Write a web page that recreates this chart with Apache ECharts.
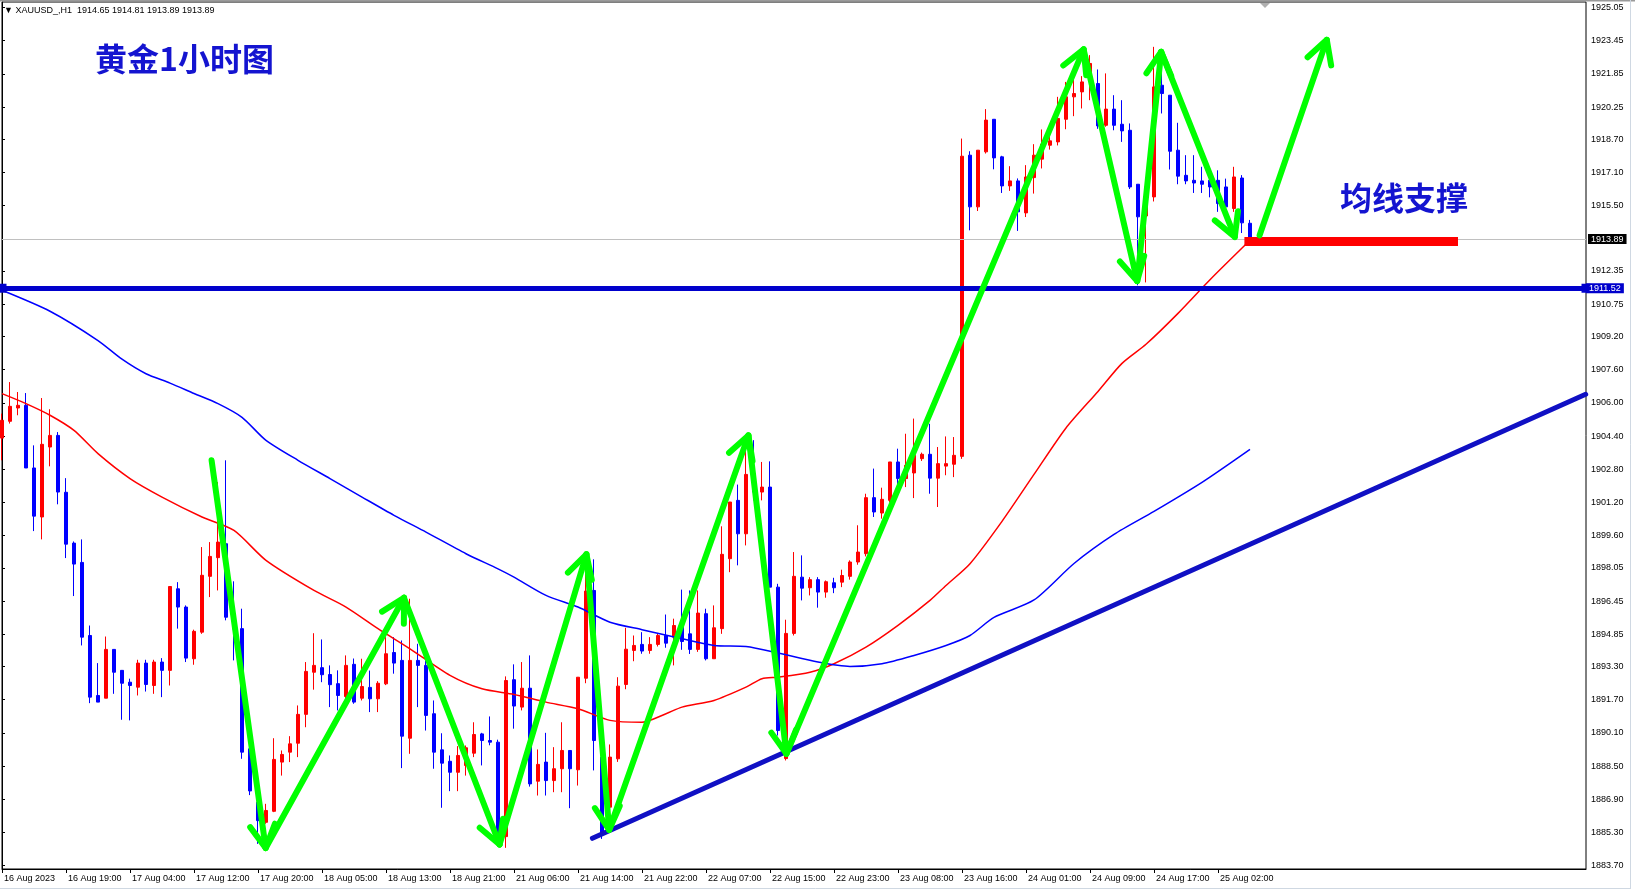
<!DOCTYPE html>
<html>
<head>
<meta charset="utf-8">
<script src="https://cdn.jsdelivr.net/npm/echarts@6/dist/echarts.min.js"></script>
<style>
html,body{margin:0;padding:0;background:#fff;}
#chart{width:1635px;height:893px;}
</style>
</head>
<body>
<div id="chart"></div>
<script>
// ---------- data ----------
const xTickLabels = ['16 Aug 2023','16 Aug 19:00','17 Aug 04:00','17 Aug 12:00','17 Aug 20:00','18 Aug 05:00','18 Aug 13:00','18 Aug 21:00','21 Aug 06:00','21 Aug 14:00','21 Aug 22:00','22 Aug 07:00','22 Aug 15:00','22 Aug 23:00','23 Aug 08:00','23 Aug 16:00','24 Aug 01:00','24 Aug 09:00','24 Aug 17:00','25 Aug 02:00'];
const barsPerLabel = 8;
const slotCount = 199;

const yTickValues = [1925.05,1923.45,1921.85,1920.25,1918.70,1917.10,1915.50,1912.35,1910.75,1909.20,1907.60,1906.00,1904.40,1902.80,1901.20,1899.60,1898.05,1896.45,1894.85,1893.30,1891.70,1890.10,1888.50,1886.90,1885.30,1883.70];

const opens = [1904.30,1905.11,1905.75,1905.88,1902.86,1900.50,1903.87,1904.43,1901.69,1899.24,1898.31,1894.79,1891.90,1891.77,1894.12,1893.11,1892.54,1892.30,1893.46,1892.38,
1893.51,1893.11,1897.04,1896.16,1893.67,1894.95,1897.64,1898.54,1899.21,1895.67,1895.12,1889.33,1886.76,1885.79,1886.32,1888.69,1889.17,1889.60,1890.99,1893.02,
1893.24,1892.91,1892.47,1891.85,1893.40,1891.77,1892.29,1891.74,1892.46,1893.97,1893.59,1889.84,1893.59,1893.35,1891.02,1889.28,1888.73,1888.20,1888.53,1889.12,
1890.05,1889.73,1889.65,1885.10,1892.66,1891.34,1892.25,1887.77,1888.69,1887.80,1888.37,1889.25,1888.32,1892.73,1896.96,1888.93,1886.52,1888.85,1892.43,1894.07,
1894.36,1894.07,1894.36,1894.79,1894.71,1895.30,1894.87,1894.12,1895.84,1893.67,1895.12,1898.49,1901.30,1899.69,1902.55,1901.70,1901.94,1897.12,1888.86,1894.89,
1897.60,1897.09,1897.48,1896.88,1897.33,1897.36,1897.64,1898.33,1898.73,1901.43,1900.69,1901.30,1903.15,1902.35,1902.62,1903.31,1903.52,1902.37,1902.95,1903.04,
1903.42,1917.93,1915.44,1918.09,1919.66,1917.85,1916.45,1916.69,1915.15,1916.85,1917.74,1918.41,1918.57,1919.66,1920.74,1920.98,1921.54,1921.38,1919.37,1920.15,
1919.42,1919.13,1916.53,1915.00,1915.92,1921.30,1920.82,1918.17,1916.96,1916.72,1916.69,1916.72,1916.72,1916.40,1915.36,1916.83,1914.65];
const highs = [1905.48,1907.00,1906.52,1906.47,1903.95,1906.23,1905.69,1904.59,1902.37,1899.32,1899.42,1895.27,1893.46,1894.74,1894.12,1893.11,1892.71,1893.62,1893.62,1893.62,
1893.70,1897.15,1897.36,1896.24,1895.07,1899.05,1899.29,1902.18,1903.23,1897.40,1896.08,1889.40,1887.48,1886.68,1889.84,1889.25,1889.94,1891.42,1893.51,1894.90,
1894.60,1893.35,1893.11,1893.83,1893.68,1893.67,1893.10,1892.59,1894.71,1894.71,1894.55,1896.56,1894.39,1893.59,1891.66,1890.08,1889.01,1889.46,1889.49,1890.61,
1890.10,1890.89,1889.77,1892.82,1893.40,1893.51,1893.83,1889.30,1890.10,1889.41,1890.61,1889.25,1892.78,1897.77,1898.46,1888.93,1889.54,1892.78,1895.16,1894.79,
1894.95,1894.71,1894.87,1895.80,1895.60,1897.00,1896.96,1896.96,1896.08,1896.24,1900.05,1901.22,1902.06,1903.87,1904.20,1903.15,1903.18,1897.28,1895.55,1898.81,
1898.65,1897.60,1897.60,1897.44,1897.57,1897.96,1898.41,1900.10,1901.62,1902.83,1901.91,1903.15,1903.79,1904.51,1905.24,1903.60,1904.99,1903.87,1904.38,1904.35,
1918.73,1918.12,1918.17,1920.15,1919.66,1917.90,1917.40,1916.81,1917.45,1918.46,1919.17,1919.17,1920.74,1921.46,1921.63,1921.74,1922.75,1922.06,1921.87,1920.82,
1920.58,1919.46,1916.53,1916.60,1923.15,1922.60,1920.82,1919.49,1917.93,1917.93,1917.37,1917.10,1917.20,1916.80,1917.37,1916.97,1914.81];
const lows = [1903.23,1905.00,1905.40,1902.86,1899.82,1899.42,1902.94,1901.11,1898.52,1896.69,1894.31,1891.53,1891.58,1891.77,1891.98,1890.73,1890.70,1891.90,1892.09,1891.98,
1891.82,1892.38,1895.12,1893.51,1893.38,1894.87,1896.64,1896.96,1895.52,1893.59,1888.85,1887.10,1884.75,1885.72,1886.28,1888.04,1888.69,1888.93,1890.37,1892.18,
1892.54,1891.34,1891.18,1891.58,1891.50,1891.66,1891.10,1891.10,1892.40,1892.95,1888.40,1889.09,1891.34,1890.21,1888.37,1886.49,1887.29,1887.29,1888.04,1888.93,
1888.53,1889.50,1884.90,1884.56,1890.30,1891.18,1887.51,1887.08,1887.08,1887.24,1887.24,1886.47,1887.56,1892.49,1888.29,1884.99,1886.36,1888.70,1892.20,1893.55,
1893.91,1893.91,1894.26,1894.20,1893.35,1894.10,1893.90,1894.00,1893.59,1893.67,1894.87,1897.84,1898.17,1899.13,1901.30,1901.30,1897.12,1889.97,1888.77,1894.79,
1896.48,1896.72,1896.13,1896.61,1896.83,1897.12,1897.48,1898.20,1898.60,1900.50,1900.42,1901.20,1902.00,1901.94,1901.41,1903.20,1901.62,1900.98,1902.51,1902.42,
1903.30,1914.31,1915.24,1918.01,1917.25,1916.11,1916.21,1914.28,1914.95,1916.08,1917.29,1918.20,1918.40,1919.18,1919.81,1920.18,1920.58,1919.20,1919.30,1919.13,
1918.57,1916.30,1911.66,1911.80,1915.70,1919.94,1917.24,1916.53,1916.53,1916.11,1916.11,1915.90,1915.20,1915.20,1915.20,1914.18,1913.89];
const closes = [1905.16,1905.83,1905.88,1902.86,1900.54,1904.00,1904.43,1901.70,1899.19,1898.23,1894.71,1891.82,1891.58,1894.12,1893.02,1892.49,1892.38,1893.46,1892.43,1893.51,
1893.11,1897.15,1896.16,1893.70,1894.99,1897.69,1898.60,1899.29,1895.67,1895.10,1889.17,1887.30,1885.87,1886.36,1888.82,1889.06,1889.57,1890.99,1893.06,1893.35,
1892.90,1892.42,1891.90,1893.35,1891.58,1892.33,1891.74,1892.49,1893.91,1893.46,1889.94,1893.59,1893.35,1890.94,1889.17,1888.64,1888.20,1889.01,1889.38,1890.02,
1889.73,1889.65,1885.23,1892.62,1891.39,1892.25,1887.64,1888.58,1887.80,1888.37,1889.25,1888.37,1892.78,1896.93,1889.73,1885.23,1888.93,1892.35,1894.13,1894.31,
1894.04,1894.36,1894.79,1894.42,1895.27,1894.50,1894.12,1895.87,1893.67,1895.16,1898.70,1901.22,1899.69,1902.55,1901.70,1901.94,1897.12,1890.21,1894.89,1897.64,
1897.07,1897.48,1896.88,1897.38,1897.09,1897.68,1898.33,1898.81,1901.43,1900.74,1901.35,1903.15,1902.35,1902.99,1903.47,1903.52,1902.37,1903.07,1903.07,1903.47,
1917.88,1915.44,1918.17,1919.62,1917.80,1916.45,1916.69,1915.20,1916.88,1917.93,1918.46,1918.62,1919.70,1920.74,1920.90,1921.46,1922.35,1919.34,1920.15,1919.37,
1919.10,1916.40,1914.96,1916.40,1921.22,1920.90,1918.12,1916.92,1916.69,1916.59,1916.53,1916.40,1915.60,1915.44,1916.88,1914.67,1913.89];

// moving averages: [bar index, price]
const maRed = [[0,1906.44],[3,1905.96],[6,1905.40],[9,1904.67],[12,1903.55],[16,1902.35],[20,1901.46],[25,1900.50],[29,1899.85],[33,1898.41],[39,1896.96],[43,1896.16],[47,1895.12],[51,1894.15],[56,1892.87],[60,1892.22],[64,1891.95],[68,1891.58],[72,1891.26],[76,1890.70],[80,1890.61],[83,1891.02],[85,1891.34],[89,1891.66],[93,1892.30],[95,1892.71],[97,1892.78],[101,1893.02],[104,1893.43],[108,1894.23],[112,1895.28],[116,1896.48],[118,1897.20],[121,1898.25],[125,1900.29],[129,1902.55],[133,1904.79],[137,1906.55],[140,1907.90],[143,1908.82],[147,1910.31],[151,1911.93],[156,1913.83]];
const maBlue = [[0,1911.42],[6,1910.41],[12,1909.00],[15,1908.10],[18,1907.40],[21,1906.95],[24,1906.45],[27,1905.96],[30,1905.30],[33,1904.19],[37,1903.23],[41,1902.35],[45,1901.46],[49,1900.58],[53,1899.77],[58,1898.73],[62,1898.00],[64,1897.60],[68,1896.72],[72,1896.16],[76,1895.43],[80,1895.07],[85,1894.63],[89,1894.31],[93,1894.26],[97,1893.95],[102,1893.51],[106,1893.30],[110,1893.43],[114,1893.83],[118,1894.31],[121,1894.79],[124,1895.66],[129,1896.50],[134,1898.26],[139,1899.66],[144,1900.77],[150,1902.17],[156,1903.76]];

const currentPrice = 1913.89;
const levelPrice = 1911.52;
const trendLine = [[73.8,1885.02],[197.96,1906.41]];
const supportBar = [[155.3,1913.77],[182.0,1913.77]];
const arrowZigzag = [[26.2,1903.23],[32.96,1884.55],[50.25,1896.61],[62.2,1884.72],[73.05,1898.70],[75.9,1885.43],[93.3,1904.43],[98.05,1889.09],[135.2,1923.03],[141.9,1911.87],[144.9,1922.91],[154.1,1913.99]];
const arrowUp = [[157.2,1914.07],[165.6,1923.49]];

const headerText = '▼ XAUUSD_,H1  1914.65 1914.81 1913.89 1913.89';
const titleText = '黄金1小时图';
const noteText = '均线支撑';

// ---------- build ----------
const categories = Array.from({length: slotCount}, (_, i) => String(i));
const isLabelSlot = (i) => i % barsPerLabel === 0 && i / barsPerLabel < xTickLabels.length;
const candleData = opens.map((o, i) => [o, closes[i], lows[i], highs[i]]);
function toSegments(pts) {
  const s = [];
  for (let i = 0; i < pts.length - 1; i++) s.push([pts[i][0], pts[i][1], pts[i + 1][0], pts[i + 1][1]]);
  return s;
}
const arrowSegs = toSegments(arrowZigzag).concat(toSegments(arrowUp));

const GREEN = '#00ff00';
const LABEL_FONT = 'Liberation Sans, Arial, sans-serif';
const TITLE_STYLE = {fontSize: 32, fontWeight: 'bold', color: '#1414d0', fontFamily: 'Noto Sans CJK SC',
  textShadowColor: 'rgba(220,0,220,0.75)', textShadowOffsetX: -1, textShadowOffsetY: 1, textShadowBlur: 0};

const chart = echarts.init(document.getElementById('chart'), null, {renderer: 'canvas'});
chart.setOption({
  animation: false,
  backgroundColor: '#ffffff',
  title: [
    {text: headerText, left: 4, top: 6, padding: 0,
     textStyle: {fontSize: 9, fontWeight: 'normal', color: '#000', fontFamily: LABEL_FONT}},
    {text: titleText, left: 95, top: 43, padding: 0, textStyle: TITLE_STYLE},
    {text: noteText, left: 1340, top: 182, padding: 0, textStyle: TITLE_STYLE}
  ],
  graphic: [
    {type: 'rect', silent: true, z: 100, shape: {x: 0, y: 0, width: 1635, height: 1.5}, style: {fill: '#9a9a9a'}},
    {type: 'line', silent: true, z: 100, shape: {x1: 1630.5, y1: 0, x2: 1630.5, y2: 888.5}, style: {stroke: '#cfd8e2', lineWidth: 1}},
    {type: 'line', silent: true, z: 100, shape: {x1: 0, y1: 888.5, x2: 1631, y2: 888.5}, style: {stroke: '#cfd8e2', lineWidth: 1}},
    {type: 'polygon', silent: true, z: 100, shape: {points: [[1260, 3], [1270, 3], [1265, 8]]}, style: {fill: '#b0b0b0'}}
  ],
  grid: {left: 2, right: 49, top: 2, bottom: 24, show: true, borderColor: '#000', borderWidth: 1, backgroundColor: '#fff', containLabel: false},
  xAxis: [
    {type: 'category', data: categories, boundaryGap: false,
     axisLine: {show: true, lineStyle: {color: '#000', width: 1}},
     axisTick: {show: true, length: 4, interval: (i) => isLabelSlot(i), lineStyle: {color: '#000'}},
     axisLabel: {show: true, interval: (i) => isLabelSlot(i), align: 'left', margin: 5, padding: [0, 0, 0, 2],
       fontSize: 9, color: '#000', fontFamily: LABEL_FONT,
       formatter: (v, i) => isLabelSlot(i) ? xTickLabels[i / barsPerLabel] : ''},
     splitLine: {show: false}},
    {type: 'value', min: 0, max: slotCount - 1, show: false}
  ],
  yAxis: {type: 'value', position: 'right', min: 1883.54, max: 1925.31,
    axisLine: {show: true, lineStyle: {color: '#000', width: 1}},
    axisTick: {show: true, length: 3, lineStyle: {color: '#000'}, customValues: yTickValues},
    axisLabel: {show: true, customValues: yTickValues, formatter: (v) => Number(v).toFixed(2), margin: 5,
      fontSize: 9, color: '#000', fontFamily: LABEL_FONT},
    splitLine: {show: false}},
  series: [
    {type: 'candlestick', xAxisIndex: 0, yAxisIndex: 0, data: candleData, barWidth: 4, z: 2,
     itemStyle: {color: '#ff0000', color0: '#0000ff', borderColor: '#ff0000', borderColor0: '#0000ff', borderWidth: 1},
     markLine: {silent: true, symbol: 'none', animation: false,
       data: [{yAxis: currentPrice}],
       lineStyle: {color: '#c0c0c0', width: 1, type: 'solid'},
       label: {show: true, position: 'end', distance: 2, formatter: currentPrice.toFixed(2),
         backgroundColor: '#000', color: '#fff', padding: [1, 3, 0, 3], fontSize: 9, fontFamily: LABEL_FONT}}},
    {type: 'line', xAxisIndex: 1, data: maRed, smooth: 0.25, showSymbol: false, z: 3,
     lineStyle: {color: '#ff0000', width: 1.5}},
    {type: 'line', xAxisIndex: 1, data: maBlue, smooth: 0.25, showSymbol: false, z: 3,
     lineStyle: {color: '#0000ff', width: 1.5}},
    {type: 'line', xAxisIndex: 1, data: [], z: 4,
     markLine: {silent: true, symbol: ['rect', 'rect'], symbolSize: 9, animation: false,
       data: [{yAxis: levelPrice}],
       lineStyle: {color: '#0000cc', width: 5, type: 'solid'},
       label: {show: true, position: 'end', distance: 0, formatter: levelPrice.toFixed(2),
         backgroundColor: '#0000cc', color: '#fff', padding: [1, 3, 0, 3], fontSize: 9, fontFamily: LABEL_FONT}}},
    {type: 'line', xAxisIndex: 1, data: trendLine, showSymbol: false, z: 4,
     lineStyle: {color: '#1010c4', width: 5, cap: 'round'}},
    {type: 'line', xAxisIndex: 1, data: supportBar, showSymbol: false, z: 5,
     lineStyle: {color: '#ff0000', width: 9, cap: 'butt'}},
    {type: 'custom', xAxisIndex: 1, yAxisIndex: 0, data: arrowSegs, z: 6, clip: false,
     encode: {x: [0, 2], y: [1, 3]},
     renderItem: (params, api) => {
       const a = api.coord([api.value(0), api.value(1)]);
       const b = api.coord([api.value(2), api.value(3)]);
       const ang = Math.atan2(b[1] - a[1], b[0] - a[0]);
       const L = 26, s = 0.5;
       const w1 = [b[0] - L * Math.cos(ang - s), b[1] - L * Math.sin(ang - s)];
       const w2 = [b[0] - L * Math.cos(ang + s), b[1] - L * Math.sin(ang + s)];
       const style = {stroke: GREEN, lineWidth: 6, fill: null, lineCap: 'round', lineJoin: 'round'};
       return {type: 'group', children: [
         {type: 'polyline', shape: {points: [a, b]}, style: style},
         {type: 'polyline', shape: {points: [w1, b, w2]}, style: style}
       ]};
     }}
  ]
});
</script>
</body>
</html>
